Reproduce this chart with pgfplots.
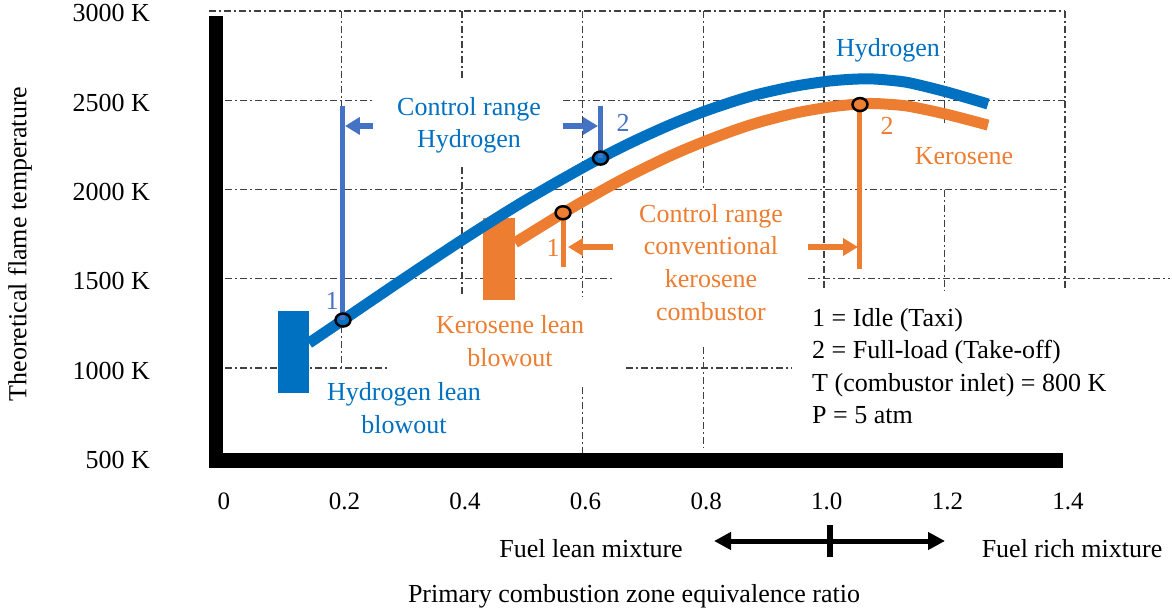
\documentclass[border=0pt]{standalone}
\usepackage{fontspec}
\setmainfont{Liberation Serif}
\usepackage{pgfplots}
\pgfplotsset{compat=1.18}
\usetikzlibrary{arrows.meta}
\definecolor{hblue}{HTML}{0070C0}
\definecolor{cblue}{HTML}{4472C4}
\definecolor{korange}{HTML}{ED7D31}
\definecolor{gridgray}{HTML}{404040}
\tikzset{
  gr/.style={draw=gridgray, line width=1.4pt, dash pattern=on 7pt off 3pt on 2pt off 3pt},
  lbl/.style={inner sep=0pt, anchor=base},
  arr/.style={line width=6pt, -{Triangle[length=15pt,width=17pt]}},
}
\begin{document}
\begin{tikzpicture}[font=\fontsize{26}{32}\selectfont]
\useasboundingbox (0pt,0pt) rectangle (1172pt,611pt);
\begin{axis}[
  at={(216pt,151pt)}, anchor=south west,
  scale only axis, width=849pt, height=449pt,
  xmin=-0.008, xmax=1.4, ymin=485, ymax=3000,
  clip=false,
  axis line style={draw=none},
  major tick length=0pt,
  xtick={0,0.2,0.4,0.6,0.8,1.0,1.2,1.4},
  xticklabels={0,0.2,0.4,0.6,0.8,1.0,1.2,1.4},
  ytick={500,1000,1500,2000,2500,3000},
  yticklabels={500 K,1000 K,1500 K,2000 K,2500 K,3000 K},
  xticklabel style={anchor=base, inner sep=0pt, yshift=-49pt, xshift=3pt, font=\fontsize{25}{30}\selectfont},
  yticklabel style={anchor=base east, inner sep=0pt, xshift=-66pt, yshift=-11pt, font=\fontsize{26}{30}\selectfont},
]
% grid segments
\draw[gr] (axis cs:0.2,3000) -- (axis cs:0.2,1000);
\draw[gr] (axis cs:0.4,3000) -- (axis cs:0.4,2613);
\draw[gr] (axis cs:0.4,2126) -- (axis cs:0.4,1398);
\draw[gr] (axis cs:0.6,3000) -- (axis cs:0.6,1398);
\draw[gr] (axis cs:0.6,894) -- (axis cs:0.6,524);
\draw[gr] (axis cs:0.8,3000) -- (axis cs:0.8,2010);
\draw[gr] (axis cs:0.8,1118) -- (axis cs:0.8,552);
\draw[gr] (axis cs:1.0,3000) -- (axis cs:1.0,1437);
\draw[gr] (axis cs:1.2,3000) -- (axis cs:1.2,2373);
\draw[gr] (axis cs:1.2,2000) -- (axis cs:1.2,1437);
\draw[gr] (axis cs:1.4,3000) -- (axis cs:1.4,1437);
\draw[gr] (axis cs:-0.0196,3000) -- (axis cs:1.4,3000);
\draw[gr] (axis cs:0.007,2500) -- (axis cs:0.2524,2500);
\draw[gr] (axis cs:0.5675,2500) -- (axis cs:1.4,2500);
\draw[gr] (axis cs:0.007,2000) -- (axis cs:1.4,2000);
\draw[gr] (axis cs:0.007,1500) -- (axis cs:0.652,1500);
\draw[gr] (axis cs:0.9738,1500) -- (axis cs:1.574,1500);
\draw[gr] (axis cs:0.007,1000) -- (axis cs:0.2806,1000);
\draw[gr] (axis cs:0.672,1000) -- (axis cs:0.9472,1000);
% kerosene
\addplot[draw=none, fill=korange, mark=none] coordinates {(0.4348,1381) (0.4879,1381) (0.4879,1841) (0.4348,1841)} -- cycle;
\addplot[korange, line width=11pt, smooth, mark=none] coordinates {
(0.4879,1702) (0.5675,1868) (0.6288,1988) (0.6786,2079) (0.7449,2188) (0.7996,2266) (0.8527,2333) (0.8941,2378) (0.9522,2428) (1.0053,2460) (1.0434,2475) (1.0766,2482) (1.1097,2477) (1.1429,2465) (1.2043,2421) (1.2723,2361)};
% hydrogen
\addplot[draw=none, fill=hblue, mark=none] coordinates {(0.0948,860) (0.1462,860) (0.1462,1320) (0.0948,1320)} -- cycle;
\addplot[hblue, line width=11pt, smooth, mark=none] coordinates {
(0.1462,1140) (0.2026,1269) (0.3021,1497) (0.4016,1720) (0.5011,1931) (0.6073,2136) (0.6786,2260) (0.7449,2362) (0.7996,2435) (0.8527,2496) (0.8941,2536) (0.9522,2579) (1.0053,2606) (1.0434,2617) (1.0766,2620) (1.1097,2612) (1.1429,2597) (1.2043,2546) (1.2723,2479)};
% control range lines
\addplot[cblue, line width=5pt, mark=none] coordinates {(0.2026,2470) (0.2026,1269)};
\addplot[cblue, line width=5pt, mark=none] coordinates {(0.6297,2470) (0.6297,2176)};
\addplot[korange, line width=5pt, mark=none] coordinates {(0.5675,1870) (0.5675,1566)};
\addplot[korange, line width=5pt, mark=none] coordinates {(1.06,2476) (1.06,1555)};
\addplot[cblue, arr, mark=none] coordinates {(0.2524,2356) (0.2059,2356)};
\addplot[cblue, arr, mark=none] coordinates {(0.5675,2356) (0.6255,2356)};
\addplot[korange, arr, mark=none] coordinates {(0.6504,1678) (0.5757,1678)};
\addplot[korange, arr, mark=none] coordinates {(0.9738,1678) (1.0567,1678)};
\addplot[only marks, mark=o, mark size=6.5pt, mark options={draw=black, line width=2.5pt, xscale=1.15}] coordinates {(0.2026,1269) (0.6297,2176) (0.5675,1870) (1.06,2476)};
% thick axis bars
\fill[black] (axis cs:-0.0196,440.2) rectangle (axis cs:0.0036,2972);
\fill[black] (axis cs:-0.0196,440.2) rectangle (axis cs:1.3967,524.2);
\end{axis}
% annotations
\node[lbl, text=hblue] at (469pt,495pt) {Control range};
\node[lbl, text=hblue] at (469pt,463pt) {Hydrogen};
\node[lbl, text=hblue] at (888pt,554pt) {Hydrogen};
\node[lbl, text=korange] at (964pt,446pt) {Kerosene};
\node[lbl, text=korange] at (711pt,388pt) {Control range};
\node[lbl, text=korange] at (711pt,356pt) {conventional};
\node[lbl, text=korange] at (711pt,323pt) {kerosene};
\node[lbl, text=korange] at (711pt,290pt) {combustor};
\node[lbl, text=korange] at (510pt,277pt) {Kerosene lean};
\node[lbl, text=korange] at (510pt,244pt) {blowout};
\node[lbl, text=hblue] at (404pt,211pt) {Hydrogen lean};
\node[lbl, text=hblue] at (404pt,178pt) {blowout};
\node[lbl, anchor=base west] at (812pt,284pt) {1 = Idle (Taxi)};
\node[lbl, anchor=base west] at (812pt,252pt) {2 = Full-load (Take-off)};
\node[lbl, anchor=base west] at (812pt,220pt) {T (combustor inlet) = 800 K};
\node[lbl, anchor=base west] at (812pt,188pt) {P = 5 atm};
\node[lbl, text=cblue] at (332pt,301pt) {1};
\node[lbl, text=cblue] at (623pt,479pt) {2};
\node[lbl, text=korange] at (553pt,354pt) {1};
\node[lbl, text=korange] at (887pt,476pt) {2};
\node[lbl] at (591pt,54pt) {Fuel lean mixture};
\node[lbl] at (1072pt,54pt) {Fuel rich mixture};
\node[lbl] at (634pt,9pt) {Primary combustion zone equivalence ratio};
\node[inner sep=0pt, rotate=90] at (20pt,367pt) {Theoretical flame temperature};
\draw[line width=5pt, {Triangle[length=17pt,width=17pt]}-{Triangle[length=17pt,width=17pt]}] (714pt,70pt) -- (945pt,70pt);
\draw[line width=5.5pt] (830pt,86pt) -- (830pt,54pt);
\end{tikzpicture}
\end{document}
